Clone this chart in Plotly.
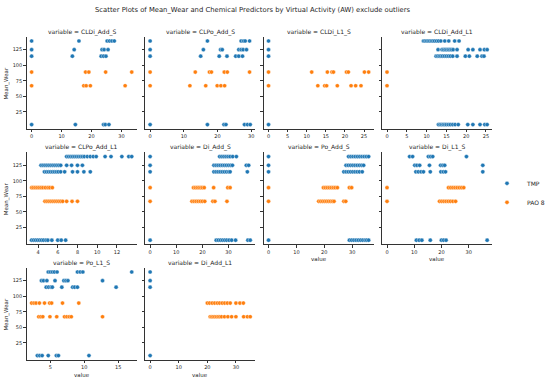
import plotly.graph_objects as go

TITLE = "Scatter Plots of Mean_Wear and Chemical Predictors by Virtual Activity (AW) exclude outliers"
VARIABLES = ["CLDi_Add_S", "CLPo_Add_S", "CLDi_L1_S", "CLDi_Add_L1", "CLPo_Add_L1",
             "Di_Add_S", "Po_Add_S", "Di_L1_S", "Po_L1_S", "Di_Add_L1"]
GROUPS = ["TMP", "PAO 8"]
COLORS = {"TMP": "#1f77b4", "PAO 8": "#ff7f0e"}
Y_TICKS = [25, 50, 75, 100, 125]

X_TICKS = {
    "CLDi_Add_S": [0, 10, 20, 30],
    "CLPo_Add_S": [0, 10, 20, 30],
    "CLDi_L1_S": [0, 5, 10, 15, 20, 25],
    "CLDi_Add_L1": [0, 5, 10, 15, 20, 25],
    "CLPo_Add_L1": [4, 6, 8, 10, 12],
    "Di_Add_S": [0, 10, 20, 30],
    "Po_Add_S": [0, 10, 20, 30],
    "Di_L1_S": [0, 10, 20, 30],
    "Po_L1_S": [5, 10, 15],
    "Di_Add_L1": [0, 10, 20, 30],
}

# Values per predictor: Mean_Wear level -> predictor values
CLDi_Add_S_TMP = {139: [0, 15.8, 25.2, 26.0, 26.8, 27.6],
                  125: [0, 14.2, 23.5, 24.2, 25.5],
                  114.5: [0, 13.6, 23.2, 24.0, 24.8],
                  4.5: [0, 14.6, 24.0, 24.6, 25.8]}
CLDi_Add_S_PAO = {89: [0, 18.0, 19.1, 24.7, 33.4],
                  67: [0, 17.4, 18.2, 19.6, 31.2]}

CLPo_Add_S_TMP = {139: [0, 17.0, 27.0, 27.7, 28.2, 29.5],
                  125: [0, 15.8, 20.9, 21.4, 26.3, 27.0, 27.6, 28.6],
                  114.5: [0, 15.0, 20.5, 22.8, 25.4, 26.3, 27.4],
                  4.5: [0, 17.0, 21.9, 22.5, 28.0, 28.9, 29.7]}
CLPo_Add_S_PAO = {89: [0, 13.4, 17.6, 18.2, 22.0, 22.9, 29.5],
                  67: [0, 11.8, 16.5, 19.9, 21.0, 22.1]}

CLDi_L1_S_TMP = {139: [0], 125: [0], 114.5: [0], 4.5: [0]}
CLDi_L1_S_PAO = {89: [0, 11.3, 15.4, 16.6, 17.0, 20.4, 20.9, 25.1, 26.2],
                 67: [0, 12.9, 14.7, 15.2, 18.0, 21.6, 22.8, 24.2]}

CLDi_Add_L1_TMP = {139: [9.2, 9.6, 10.0, 10.4, 10.8, 11.2, 11.6, 12.0, 12.5, 13.0, 13.6, 14.6, 15.6, 17.1, 18.2],
                   125: [12.9, 13.9, 14.3, 14.7, 15.1, 15.5, 15.9, 16.3, 16.7, 17.7, 20.5, 21.7, 23.5, 24.6, 25.3],
                   114.5: [12.4, 12.8, 13.2, 13.6, 14.0, 14.5, 15.0, 15.5, 16.0, 16.6, 17.7, 19.8, 20.8, 22.8, 24.0, 24.5],
                   4.5: [13.0, 13.4, 13.8, 14.2, 14.6, 15.0, 15.5, 16.0, 16.6, 17.2, 18.0, 20.4, 21.7, 23.5, 24.7, 25.3]}
CLDi_Add_L1_PAO = {89: [0], 67: [0]}

CLPo_Add_L1_TMP = {139: [6.9, 7.1, 7.3, 7.5, 7.7, 7.9, 8.1, 8.3, 8.5, 8.7, 9.0, 9.3, 9.6, 9.9, 10.8, 11.4, 12.5, 13.2, 13.5],
                   125: [4.3, 4.5, 4.7, 4.9, 5.1, 5.3, 5.5, 5.7, 5.9, 6.1, 6.3, 6.9, 7.4, 8.0, 8.5],
                   114.5: [4.65, 4.85, 5.05, 5.25, 5.45, 5.65, 5.85, 6.05, 6.3, 6.7, 7.5, 8.0, 8.65, 9.3],
                   4.5: [3.35, 3.55, 3.75, 3.95, 4.15, 4.35, 4.55, 4.8, 5.0, 5.4, 6.0, 6.35, 6.8]}
CLPo_Add_L1_PAO = {89: [3.35, 3.5, 3.7, 3.9, 4.1, 4.3, 4.5, 4.75, 5.0, 5.2, 5.45],
                   67: [4.7, 4.9, 5.1, 5.3, 5.5, 5.7, 5.9, 6.1, 6.3, 6.5, 6.9, 7.45, 8.0]}

Di_Add_S_TMP = {139: [0, 26.6, 27.4, 28.2, 29.0, 29.8, 30.6, 31.6, 33.0],
                125: [0, 24.4, 25.2, 26.0, 26.8, 27.6, 28.4, 29.2, 30.0, 30.8, 31.5, 36.8, 37.7],
                114.5: [0, 24.4, 25.2, 26.0, 26.8, 27.6, 28.4, 29.2, 30.0, 30.6, 37.2],
                4.5: [0, 25.3, 26.1, 26.9, 27.7, 28.5, 29.3, 30.2, 31.2, 32.7, 37.4, 38.3]}
Di_Add_S_PAO = {89: [0, 16.6, 17.3, 18.0, 18.7, 19.4, 20.0, 20.7, 24.3, 29.7, 30.6],
                67: [0, 16.0, 16.8, 17.6, 18.4, 19.2, 20.0, 20.9, 24.0, 24.8, 29.4]}

Po_Add_S_TMP = {139: [0, 28.7, 29.5, 30.3, 31.1, 31.9, 32.7, 33.5, 34.3, 35.1, 35.9],
                125: [0, 27.8, 28.6, 29.4, 30.2, 31.0, 31.8, 32.6, 33.4, 34.1],
                114.5: [0, 27.0, 27.8, 28.6, 29.4, 30.2, 31.0, 31.8, 32.6, 33.6],
                4.5: [0, 29.0, 29.8, 30.6, 31.4, 32.2, 33.0, 33.8, 34.6, 35.2, 35.9]}
Po_Add_S_PAO = {89: [0, 19.7, 20.4, 21.1, 21.8, 22.5, 23.2, 23.9, 24.7, 29.0, 29.8],
                67: [0, 18.0, 18.7, 19.4, 20.1, 20.8, 21.5, 22.2, 22.9, 23.5, 27.0, 27.7]}

Di_L1_S_TMP = {139: [8.3, 9.4, 15.2, 16.0, 16.8, 29.2],
               125: [10.2, 11.0, 12.0, 15.6, 19.7, 20.5, 21.2, 35.2],
               114.5: [10.6, 11.5, 12.5, 13.4, 15.9, 19.8, 20.7, 21.5, 35.2],
               4.5: [10.8, 11.8, 12.8, 15.9, 20.0, 20.8, 21.7, 36.8]}
Di_L1_S_PAO = {89: [0, 22.6, 23.4, 24.2, 25.0, 25.8, 26.6, 27.4, 28.2],
               67: [0, 19.3, 20.1, 20.9, 21.7, 22.5, 23.3, 24.2, 25.2]}

Po_L1_S_TMP = {139: [4.7, 5.0, 5.3, 5.6, 6.0, 9.0, 9.4, 9.8, 17.0],
               125: [3.7, 4.0, 4.5, 5.7, 7.0, 7.3, 7.6, 12.7],
               114.5: [4.4, 4.75, 5.1, 5.3, 6.7, 8.3, 8.6, 9.0, 14.7],
               4.5: [3.1, 3.45, 3.8, 4.7, 5.9, 6.2, 10.7]}
Po_L1_S_PAO = {89: [2.25, 2.6, 2.9, 3.4, 4.15, 4.9, 5.2, 6.8, 9.2],
               67: [3.3, 3.6, 3.9, 4.95, 5.95, 7.1, 7.45, 7.8, 8.1, 12.7]}

Di_Add_L1_TMP = {139: [0], 125: [0], 114.5: [0], 4.5: [0]}
Di_Add_L1_PAO = {89: [20.0, 20.8, 21.7, 22.6, 23.5, 24.3, 25.2, 26.1, 27.0, 28.0, 30.0, 31.4, 32.6],
                 67: [21.0, 21.5, 22.0, 22.6, 23.2, 23.8, 24.4, 25.0, 26.0, 27.2, 28.5, 30.0, 32.7, 34.0, 35.0]}

DATA = {
    "CLDi_Add_S": {"TMP": CLDi_Add_S_TMP, "PAO 8": CLDi_Add_S_PAO},
    "CLPo_Add_S": {"TMP": CLPo_Add_S_TMP, "PAO 8": CLPo_Add_S_PAO},
    "CLDi_L1_S": {"TMP": CLDi_L1_S_TMP, "PAO 8": CLDi_L1_S_PAO},
    "CLDi_Add_L1": {"TMP": CLDi_Add_L1_TMP, "PAO 8": CLDi_Add_L1_PAO},
    "CLPo_Add_L1": {"TMP": CLPo_Add_L1_TMP, "PAO 8": CLPo_Add_L1_PAO},
    "Di_Add_S": {"TMP": Di_Add_S_TMP, "PAO 8": Di_Add_S_PAO},
    "Po_Add_S": {"TMP": Po_Add_S_TMP, "PAO 8": Po_Add_S_PAO},
    "Di_L1_S": {"TMP": Di_L1_S_TMP, "PAO 8": Di_L1_S_PAO},
    "Po_L1_S": {"TMP": Po_L1_S_TMP, "PAO 8": Po_L1_S_PAO},
    "Di_Add_L1": {"TMP": Di_Add_L1_TMP, "PAO 8": Di_Add_L1_PAO},
}

# ---------------- layout geometry (pixels) ----------------
W, H = 550, 382
COL_LEFT = [27.3, 148.9, 270.4, 392.0]
COL_W = 113.0
ROW_TOP = [36.8, 152.4, 267.8]
ROW_H = 92.0
AXIS_COLOR = "#333333"
TEXT_COLOR = "#262626"
FONT = "DejaVu Sans"


def flatten(d):
    xs, ys = [], []
    for wear, vals in d.items():
        for v in vals:
            xs.append(v)
            ys.append(wear)
    return xs, ys


def padded(lo, hi, frac=0.05):
    span = hi - lo
    return [lo - frac * span, hi + frac * span]


fig = go.Figure()

all_y = []
for var in VARIABLES:
    for g in GROUPS:
        all_y += list(DATA[var][g].keys())
y_range = padded(min(all_y), max(all_y))

annotations = []
for i, var in enumerate(VARIABLES):
    r, c = divmod(i, 4)
    n = i + 1
    xs_all = []
    for g in GROUPS:
        xs, ys = flatten(DATA[var][g])
        xs_all += xs
        fig.add_trace(go.Scatter(
            x=xs, y=ys, mode="markers", name=g,
            showlegend=(i == 0),
            marker=dict(color=COLORS[g], size=4.2, line=dict(color="white", width=0.4)),
            xaxis=f"x{n}", yaxis=f"y{n}",
        ))
    x0 = COL_LEFT[c] / W
    x1 = (COL_LEFT[c] + COL_W) / W
    y1 = 1 - ROW_TOP[r] / H
    y0 = 1 - (ROW_TOP[r] + ROW_H) / H
    common = dict(showline=True, linecolor=AXIS_COLOR, linewidth=0.8, ticks="outside",
                  ticklen=2.5, tickwidth=0.8, tickcolor=AXIS_COLOR, showgrid=False,
                  zeroline=False, tickfont=dict(size=5, color=TEXT_COLOR, family=FONT))
    fig.layout[f"xaxis{n}"] = dict(domain=[x0, x1], anchor=f"y{n}",
                                   range=padded(min(xs_all), max(xs_all)),
                                   tickvals=X_TICKS[var], **common)
    fig.layout[f"yaxis{n}"] = dict(domain=[y0, y1], anchor=f"x{n}", range=y_range,
                                   tickvals=Y_TICKS, showticklabels=(c == 0), **common)
    annotations.append(dict(text=f"variable = {var}", x=(x0 + x1) / 2, y=1 - (ROW_TOP[r] - 5) / H,
                            xref="paper", yref="paper", showarrow=False, xanchor="center",
                            yanchor="middle", font=dict(size=6, color=TEXT_COLOR, family=FONT)))
    if c == 0:
        annotations.append(dict(text="Mean_Wear", x=7 / W, y=1 - (ROW_TOP[r] + ROW_H / 2) / H,
                                xref="paper", yref="paper", showarrow=False, textangle=-90,
                                xanchor="center", yanchor="middle",
                                font=dict(size=5.5, color=TEXT_COLOR, family=FONT)))
    if i >= len(VARIABLES) - 4:
        annotations.append(dict(text="value", x=(x0 + x1) / 2, y=1 - (ROW_TOP[r] + ROW_H + 15) / H,
                                xref="paper", yref="paper", showarrow=False, xanchor="center",
                                yanchor="middle", font=dict(size=5.5, color=TEXT_COLOR, family=FONT)))

annotations.append(dict(text=TITLE, x=259.5 / W, y=1 - 10 / H, xref="paper", yref="paper",
                        showarrow=False, xanchor="center", yanchor="middle",
                        font=dict(size=6.8, color=TEXT_COLOR, family=FONT)))

fig.update_layout(
    width=W, height=H, margin=dict(l=0, r=0, t=0, b=0),
    paper_bgcolor="white", plot_bgcolor="white",
    font=dict(family=FONT, color=TEXT_COLOR),
    annotations=annotations,
    legend=dict(x=500 / W, y=1 - 192.8 / H, xanchor="left", yanchor="middle",
                font=dict(size=6, color=TEXT_COLOR, family=FONT), bgcolor="rgba(0,0,0,0)"),
)

fig.write_html("out.html", config={"displayModeBar": False},
               post_script="document.body.style.margin='0';document.body.style.padding='0';")
